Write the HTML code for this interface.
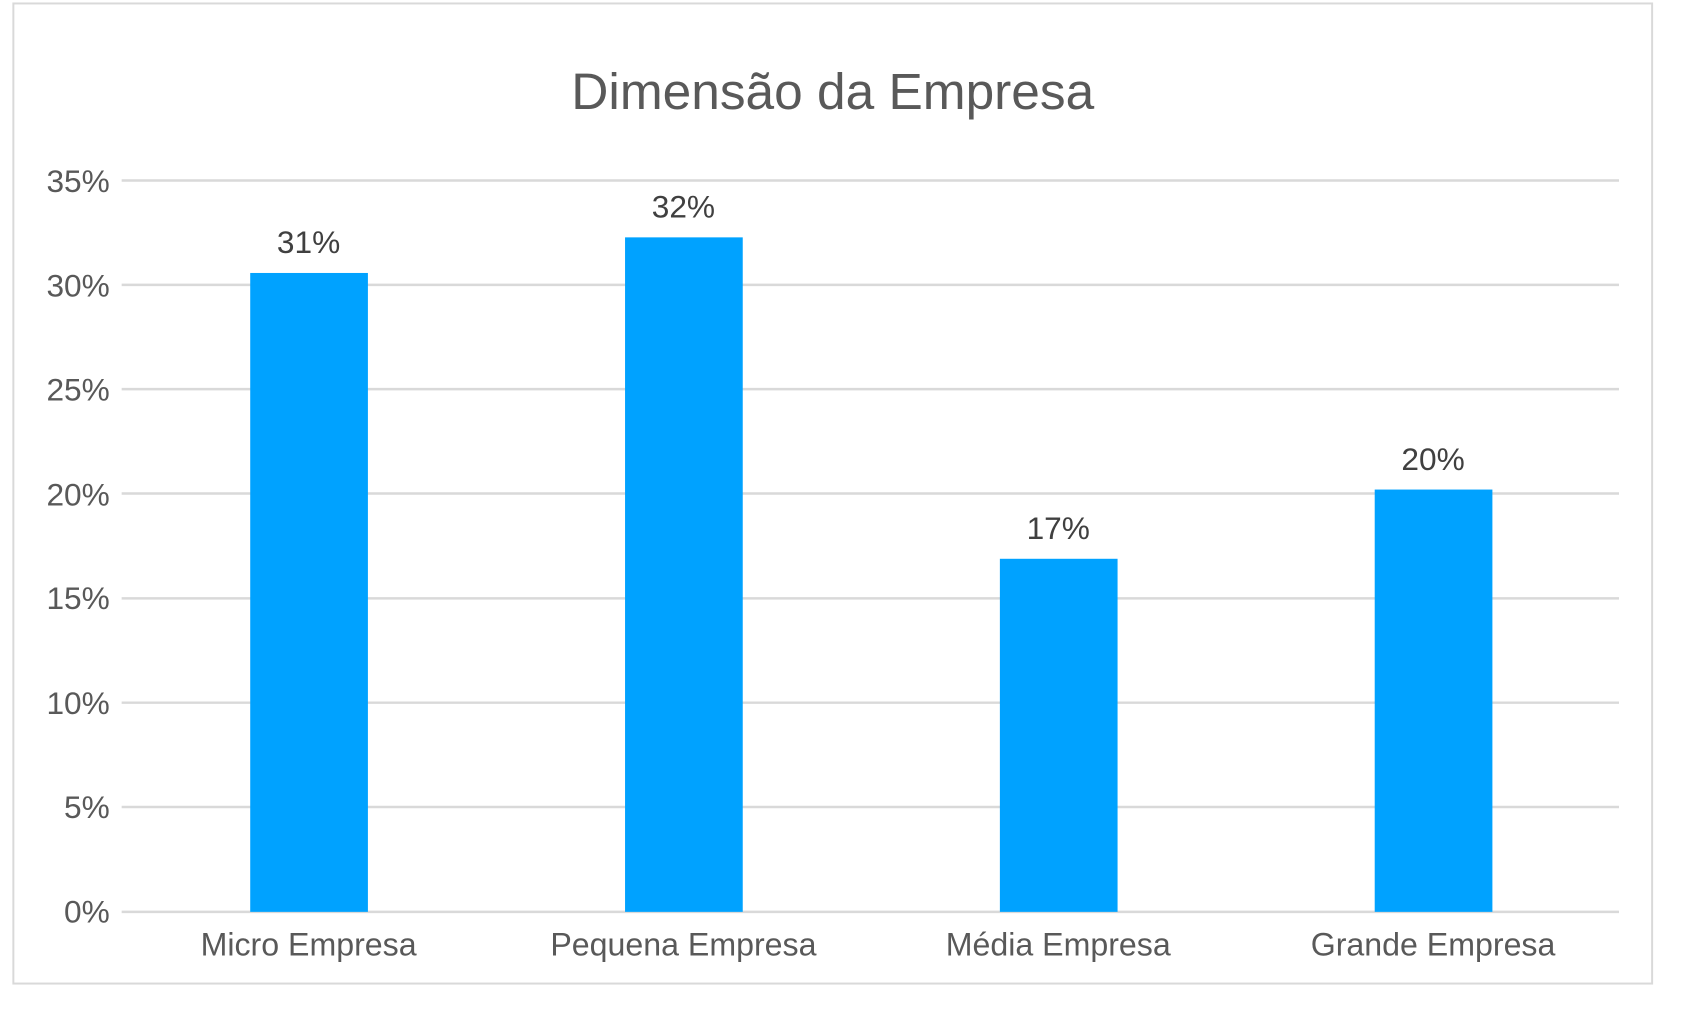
<!DOCTYPE html>
<html><head><meta charset="utf-8"><style>
html,body{margin:0;padding:0;background:#fff;}
</style></head><body>
<svg width="1684" height="1012" viewBox="0 0 1684 1012" xmlns="http://www.w3.org/2000/svg" font-family="'Liberation Sans', sans-serif">
<rect x="0" y="0" width="1684" height="1012" fill="#fff"/>
<g transform="scale(0.989)">
<rect x="13.5" y="3.5" width="1657" height="991" fill="#fff" stroke="#d9d9d9" stroke-width="2"/>
<text x="842" y="110" text-anchor="middle" font-size="52" fill="#595959">Dimensão da Empresa</text>
<g stroke="#d9d9d9" stroke-width="2.5">
<line x1="123" x2="1637" y1="182.5" y2="182.5"/>
<line x1="123" x2="1637" y1="288" y2="288"/>
<line x1="123" x2="1637" y1="393.5" y2="393.5"/>
<line x1="123" x2="1637" y1="499" y2="499"/>
<line x1="123" x2="1637" y1="605" y2="605"/>
<line x1="123" x2="1637" y1="710.5" y2="710.5"/>
<line x1="123" x2="1637" y1="816" y2="816"/>
<line x1="123" x2="1637" y1="922" y2="922"/>
</g>
<g font-size="32" fill="#595959" text-anchor="end">
<text x="111" y="194">35%</text>
<text x="111" y="300">30%</text>
<text x="111" y="405">25%</text>
<text x="111" y="511">20%</text>
<text x="111" y="616">15%</text>
<text x="111" y="722">10%</text>
<text x="111" y="827">5%</text>
<text x="111" y="933">0%</text>
</g>
<g fill="#00A2FF">
<rect x="253" y="276" width="119" height="646"/>
<rect x="632" y="240" width="119" height="682"/>
<rect x="1011" y="565" width="119" height="357"/>
<rect x="1390" y="495" width="119" height="427"/>
</g>
<g font-size="32" fill="#404040" text-anchor="middle">
<text x="312" y="256">31%</text>
<text x="691" y="220">32%</text>
<text x="1070" y="545">17%</text>
<text x="1449" y="475">20%</text>
</g>
<g font-size="32.5" fill="#595959" text-anchor="middle">
<text x="312" y="966">Micro Empresa</text>
<text x="691" y="966">Pequena Empresa</text>
<text x="1070" y="966">Média Empresa</text>
<text x="1449" y="966">Grande Empresa</text>
</g>
</g>
</svg>
</body></html>
